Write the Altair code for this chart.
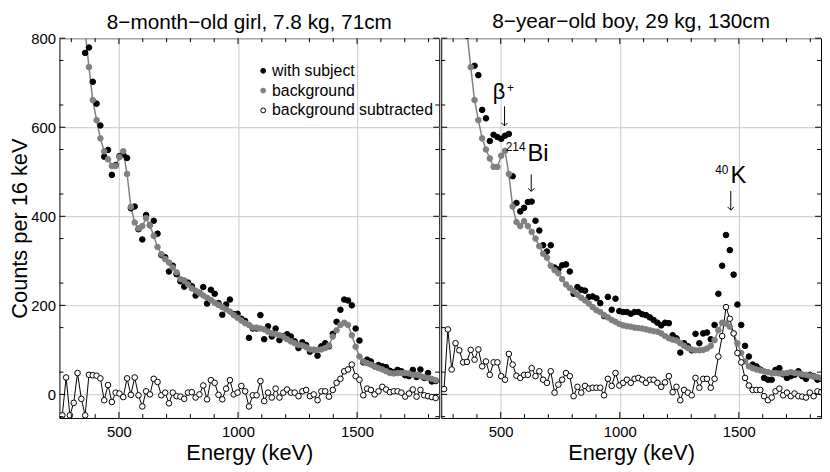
import altair as alt
import pandas as pd

FONT = "Liberation Sans"
W, H = 384, 384
XDOM = [250, 1845]
YDOM = [-53, 800]

# bin centres (16 keV channels)
ENERGY = [262 + 16 * k for k in range(100)]
SERIES = ["with subject", "background", "background subtracted"]
N = None

# ---------------- left panel: 8-month-old girl ----------------
GIRL_SUBJ = [N, N, N, N, 1030, 890, 767, 779, 702, 653,
             604, 534, 549, 493, 515, 535, 539, 531, 418, 422,
             371, 348, 403, 380, 390, 361, 313, 308, 276, 289,
             270, 254, 242, 251, 243, 222, 228, 241, 204, 235,
             226, 205, 179, 202, 213, 180, 181, 170, 165, 127,
             148, 148, 178, 124, 153, 130, 148, 122, 131, 135,
             130, 119, 104, 117, 111, 96, 100, 87, 108, 115,
             108, 136, 163, 190, 213, 211, 200, 148, 121, 72,
             78, 74, 63, 66, 63, 61, 53, 50, 55, 52,
             43, 41, 55, 39, 56, 37, 48, 29, 30]
GIRL_BG = [N, N, N, N, 990, 900, 815, 735, 661, 616,
           575, 546, 528, 513, 513, 533, 546, 495, 421, 386,
           373, 378, 396, 380, 356, 331, 315, 304, 296, 285,
           274, 259, 256, 247, 238, 233, 228, 222, 217, 212,
           206, 201, 196, 191, 186, 178, 172, 166, 160, 156,
           150, 150, 148, 146, 141, 137, 136, 133, 130, 124,
           119, 115, 111, 110, 106, 101, 100, 100, 101, 104,
           110, 130, 144, 156, 161, 156, 133, 107, 85, 74,
           70, 67, 63, 59, 56, 52, 48, 47, 48, 48,
           48, 47, 44, 44, 41, 39, 37, 35, 32]
GIRL_SUB = [-47, 38, -47, -19, 48, -10, -47, 44, 43, 42,
            36, -13, 21, -17, 4, 2, -6, 36, -1, 38,
            -2, -27, 7, 0, 35, 28, -2, 4, -20, 4,
            -4, -5, -10, 4, 5, -7, 0, 20, -11, 32,
            26, -1, -11, 13, 32, 0, 4, 19, 7, -27,
            -2, -2, 30, -15, 4, -7, 13, -7, 4, 11,
            4, 4, -4, 7, 10, -4, 0, -13, 7, 7,
            -5, 10, 26, 35, 52, 56, 67, 41, 33, -2,
            13, 10, 0, 7, 17, 11, 5, 7, 7, 4,
            -5, 2, 11, -5, 10, -2, -4, -6, -8]

# ---------------- right panel: 8-year-old boy ----------------
BOY_SUBJ = [N, N, N, N, 1090, 975, 805, 835, 738, 717,
            639, 620, 569, 583, 578, 574, 581, 585, 490, 430,
            411, 419, 432, 433, 390, 368, 335, 321, 335, 285,
            281, 290, 292, 276, 226, 241, 235, 233, 219, 220,
            216, 205, 176, 219, 190, 215, 187, 185, 185, 181,
            185, 185, 180, 178, 173, 167, 161, 155, 161, 160,
            133, 126, 94, 115, 108, 99, 136, 115, 137, 139,
            124, 156, 226, 289, 358, 324, 269, 202, 156, 109,
            85, 67, 63, 56, 37, 33, 33, 55, 59, 45,
            37, 41, 44, 52, 41, 35, 44, 41, 33, 35]
BOY_BG = [N, N, N, N, 990, 900, 815, 735, 661, 616,
          575, 550, 530, 511, 511, 536, 547, 495, 422, 387,
          378, 389, 378, 365, 350, 333, 316, 307, 289, 279,
          272, 259, 247, 239, 232, 224, 217, 211, 204, 196,
          189, 185, 178, 173, 167, 163, 158, 155, 153, 152,
          150, 149, 148, 146, 144, 142, 141, 137, 131, 126,
          123, 121, 115, 109, 104, 101, 99, 99, 100, 103,
          109, 122, 144, 161, 159, 152, 137, 115, 93, 74,
          63, 59, 56, 54, 52, 50, 48, 48, 47, 47,
          48, 50, 48, 47, 45, 44, 42, 40, 39, 37]
BOY_SUB = [12, 146, 56, 115, 99, 72, 73, 100, 78, 101,
           63, 74, 44, 72, 72, 41, 33, 91, 67, 42,
           37, 44, 44, 59, 41, 52, 33, 26, 52, 4,
           22, 33, 48, 41, -4, 17, 4, 19, 13, 15,
           15, 15, -2, 35, 19, 48, 20, 26, 33, 26,
           35, 37, 33, 26, 33, 33, 26, 17, 27, 41,
           5, 17, -13, 10, 4, -2, 37, 15, 35, 35,
           15, 35, 85, 131, 196, 170, 137, 93, 72, 37,
           20, 10, 10, 10, -4, -13, -7, 7, 13, -2,
           4, -4, 2, -4, -5, -7, 4, -4, 7, 5]

TITLES = ["8\u2212month\u2212old girl, 7.8 kg, 71cm", "8\u2212year\u2212old boy, 29 kg, 130cm"]

# peak labels (right panel): text, energy, counts, font size, align
NOTE_TEXT = ["\u03b2", "+", "214", "Bi", "40", "K"]
NOTE_E = [493, 526, 604, 612, 1456, 1465]
NOTE_C = [678, 688, 556, 540, 505, 490]
NOTE_SIZE = [22, 12, 12, 24, 12, 24]
NOTE_ALIGN = ["center", "left", "right", "left", "right", "left"]
# arrows: energy, counts at tail, counts at tip
ARROW_E = [516, 628, 1466]
ARROW_TAIL = [647, 494, 457]
ARROW_TIP = [603, 456, 414]

X_MAJOR = [500, 1000, 1500]
X_MINOR = [300, 400, 600, 700, 800, 900, 1100, 1200, 1300, 1400, 1600, 1700, 1800]
Y_MAJOR = [0, 200, 400, 600, 800]
Y_MINOR = [-50, 50, 150, 250, 350, 450, 550, 650, 750]


def long_df(subj, bg, sub):
    rows = []
    for name, vals in zip(SERIES, (subj, bg, sub)):
        for e, v in zip(ENERGY, vals):
            if v is not None:
                rows.append({"energy": e, "counts": v, "series": name})
    return pd.DataFrame(rows)


def panel(subj, bg, sub, title, first):
    df = long_df(subj, bg, sub)
    x = alt.X("energy:Q", scale=alt.Scale(domain=XDOM, nice=False, zero=False),
              axis=alt.Axis(values=X_MAJOR, title="Energy (keV)", grid=True, ticks=False,
                            domain=False, labelPadding=7, titlePadding=3, labelFontSize=15,
                            titleFontSize=22, labelFont=FONT, titleFont=FONT,
                            labelColor="black", titleColor="black", titleFontWeight="normal",
                            gridColor="#c8c8c8", format="d", labelFlush=False))
    y = alt.Y("counts:Q", scale=alt.Scale(domain=YDOM, nice=False, zero=False),
              axis=alt.Axis(values=Y_MAJOR, title="Counts per 16 keV" if first else "",
                            labels=first, grid=True, ticks=False, domain=False,
                            labelPadding=4, titlePadding=-1, labelFontSize=15, titleFontSize=22,
                            labelFont=FONT, titleFont=FONT, labelColor="black",
                            titleColor="black", titleFontWeight="normal",
                            gridColor="#c8c8c8", labelFlush=False))
    base = alt.Chart(df)
    gray_line = base.transform_filter(alt.datum.series == "background").mark_line(
        clip=True, color="#808080", strokeWidth=1.5).encode(x=x, y=y)
    black_line = base.transform_filter(alt.datum.series == "background subtracted").mark_line(
        clip=True, color="black", strokeWidth=1).encode(x=x, y=y)
    if first:
        leg = alt.Legend(orient="none", legendX=198, legendY=25, title=None, labelFont=FONT,
                         labelFontSize=16, symbolSize=24, symbolStrokeWidth=1, labelOffset=1,
                         rowPadding=4, symbolType="circle", labelColor="black", labelLimit=0)
    else:
        leg = None
    pts = base.mark_point(clip=True, filled=False, size=32, strokeWidth=1, opacity=1).encode(
        x=x, y=y,
        fill=alt.Fill("series:N", scale=alt.Scale(domain=SERIES, range=["black", "#808080", "white"]),
                      legend=leg),
        stroke=alt.Stroke("series:N", scale=alt.Scale(domain=SERIES, range=["black", "#808080", "black"]),
                          legend=leg),
    )
    layers = [gray_line, black_line, pts]

    # inner ticks
    for vals, ln in ((X_MAJOR, 6), (X_MINOR, 4)):
        tdf = pd.DataFrame({"energy": vals})
        layers.append(alt.Chart(tdf).mark_rule(color="black", strokeWidth=1).encode(
            x=x, y=alt.value(H), y2=alt.value(H - ln)))
        layers.append(alt.Chart(tdf).mark_rule(color="black", strokeWidth=1).encode(
            x=x, y=alt.value(0), y2=alt.value(ln)))
    for vals, ln in ((Y_MAJOR, 6), (Y_MINOR, 4)):
        tdf = pd.DataFrame({"counts": vals})
        layers.append(alt.Chart(tdf).mark_rule(color="black", strokeWidth=1).encode(
            y=y, x=alt.value(0), x2=alt.value(ln)))
        layers.append(alt.Chart(tdf).mark_rule(color="black", strokeWidth=1).encode(
            y=y, x=alt.value(W), x2=alt.value(W - ln)))

    if not first:
        ndf = pd.DataFrame({"text": NOTE_TEXT, "energy": NOTE_E, "counts": NOTE_C,
                            "size": NOTE_SIZE, "align": NOTE_ALIGN})
        for al in ("center", "left", "right"):
            sub_df = ndf[ndf["align"] == al]
            if len(sub_df):
                layers.append(alt.Chart(sub_df).mark_text(
                    align=al, baseline="middle", font=FONT, color="black").encode(
                    x=x, y=y, text="text:N", size=alt.Size("size:Q", scale=None, legend=None)))
        adf = pd.DataFrame({"energy": ARROW_E, "counts": ARROW_TAIL, "tip": ARROW_TIP})
        layers.append(alt.Chart(adf).mark_rule(color="black", strokeWidth=1).encode(
            x=x, y=y, y2=alt.Y2("tip:Q")))
        hdf = pd.DataFrame({"energy": ARROW_E, "counts": ARROW_TIP})
        layers.append(alt.Chart(hdf).mark_point(
            shape="M -1 -1 L 0 0 L 1 -1", filled=False, size=40, color="black",
            strokeWidth=1, opacity=1).encode(x=x, y=y))

    return alt.layer(*layers).properties(
        width=W, height=H,
        title=alt.TitleParams(title, fontSize=21, font=FONT, fontWeight="normal",
                              offset=-2 if first else 6, anchor="middle", color="black"))


left = panel(GIRL_SUBJ, GIRL_BG, GIRL_SUB, TITLES[0], True)
right = panel(BOY_SUBJ, BOY_BG, BOY_SUB, TITLES[1], False)

chart = alt.hconcat(left, right, spacing=0).resolve_scale(
    fill="independent", stroke="independent").resolve_legend(
    fill="independent", stroke="independent").properties(
    padding={"left": 0, "top": 0, "right": 0, "bottom": 0}).configure(
    font=FONT).configure_view(stroke="black", strokeWidth=1)

chart.save("out.html", embed_options={"renderer": "svg", "actions": False})
